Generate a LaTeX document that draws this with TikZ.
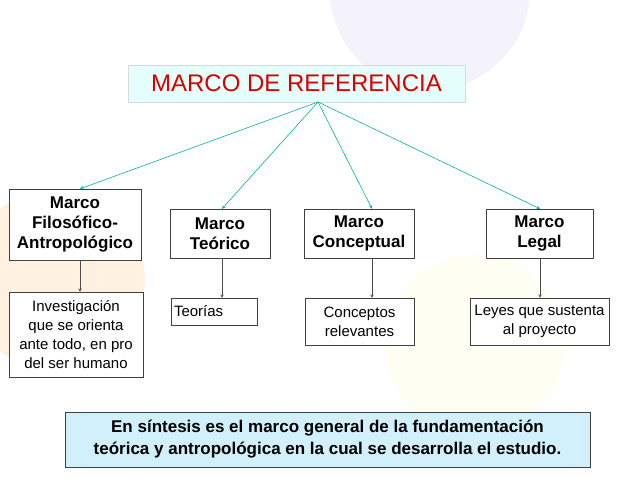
\documentclass[tikz,border=0pt]{standalone}
\usepackage{fontspec}
\setmainfont{Liberation Sans}
\begin{document}
\begin{tikzpicture}[x=1pt,y=-1pt,
  hbox/.style={draw=black!75,fill=white,align=center,font=\bfseries\fontsize{17}{20}\selectfont,inner sep=0pt},
  tbox/.style={draw=black!75,fill=white,align=center,font=\fontsize{15}{19}\selectfont,inner sep=0pt},
  tarr/.style={draw=teal!60!cyan,-stealth,line width=0.6pt},
  darr/.style={draw=black!70,-stealth,line width=0.5pt}]
\useasboundingbox (0,0) rectangle (638,479);
\fill[white] (0,0) rectangle (638,479);
\fill[cyan!8!blue!4] (430,-10) circle (100);
\fill[orange!12] (55,280) circle (90);
\fill[green!10!yellow!5] (475,345) circle (90);
\node[draw=black!15,fill=green!12!cyan!10,minimum width=337,minimum height=37,inner sep=0,font=\fontsize{24}{28}\selectfont,text=red!85!black] (t) at (296.5,83.5) {MARCO DE REFERENCIA};
\coordinate (ap) at (318,102);
\node[hbox,minimum width=132,minimum height=71] (f) at (75,224.5) {Marco\\Filosófico-\\Antropológico};
\node[hbox,minimum width=100,minimum height=49] (te) at (220,233.5) {Marco\\Teórico};
\node[hbox,minimum width=110,minimum height=49] (c) at (359,233.5) {Marco\\Conceptual};
\node[hbox,minimum width=107,minimum height=49] (l) at (539.5,233.5) {Marco\\Legal};
\node[tbox,minimum width=134,minimum height=85] (f2) at (76,334.5) {Investigación\\que se orienta\\ante todo, en pro\\del ser humano};
\node[tbox,minimum width=86,minimum height=27,text width=80,align=left] (te2) at (214,311.5) {Teorías};
\node[tbox,minimum width=109,minimum height=47] (c2) at (359.5,321.5) {Conceptos\\relevantes};
\node[tbox,minimum width=139,minimum height=47] (l2) at (539.5,321.5) {Leyes que sustenta\\al proyecto};
\node[draw=black!75,fill=cyan!18,minimum width=525,minimum height=55,inner sep=0,align=center,font=\bfseries\fontsize{17}{22}\selectfont] (b) at (327.5,439.5) {En síntesis es el marco general de la fundamentación\\teórica y antropológica en la cual se desarrolla el estudio.};
\draw[tarr] (ap) -- (f.north -| 80,0);
\draw[tarr] (ap) -- (te.north -| 222,0);
\draw[tarr] (ap) -- (c.north -| 372,0);
\draw[tarr] (ap) -- (l.north -| 540,0);
\draw[darr] (f.south -| 80,0) -- (f2.north -| 80,0);
\draw[darr] (te.south -| 222,0) -- (te2.north -| 222,0);
\draw[darr] (c.south -| 372,0) -- (c2.north -| 372,0);
\draw[darr] (l.south -| 540,0) -- (l2.north -| 540,0);
\end{tikzpicture}
\end{document}
